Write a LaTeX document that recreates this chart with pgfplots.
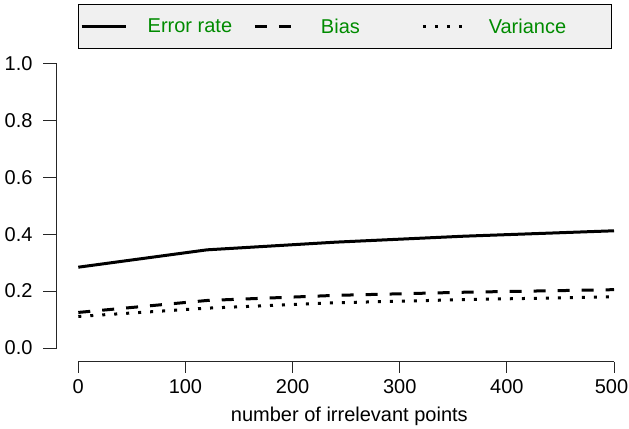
\documentclass[border=0pt]{standalone}
\usepackage{pgfplots}
\pgfplotsset{compat=1.18}
\usepackage{fontspec}
\setmainfont{Liberation Sans}
\definecolor{legendgreen}{RGB}{0,139,0}
\newcommand{\lblfont}{\fontsize{20bp}{24bp}\selectfont}

\begin{document}
\begin{tikzpicture}
\useasboundingbox (0bp,0bp) rectangle (629bp,429bp);
\begin{axis}[
  at={(56.87bp,69.62bp)}, anchor=south west,
  scale only axis,
  width=578.57bp, height=307.26bp,
  xmin=-20, xmax=520, ymin=-0.04, ymax=1.04,
  hide axis, clip=false,
  legend columns=3,
  legend image code/.code={\draw[#1] (0bp,0bp) -- (44bp,0bp);},
  legend style={
    at={(0.03704,1.1566)}, anchor=north west,
    draw=black, line width=0.8bp, fill=gray!12,
    inner xsep=1.5bp, inner ysep=12.2bp,
    font=\lblfont,
    /tikz/every odd column/.append style={column sep=18.5bp},
  },
]
\addplot[black, line width=3bp] coordinates {
  (0,0.284) (120,0.345) (240,0.372) (360,0.393) (500,0.412)
};
\addlegendentry{\makebox[103.8bp][l]{\textcolor{legendgreen}{Error rate}}}
\addplot[black, line width=3bp, dash pattern=on 12bp off 12bp] coordinates {
  (0,0.125) (120,0.167) (240,0.185) (360,0.196) (500,0.205)
};
\addlegendentry{\makebox[98.3bp][l]{\textcolor{legendgreen}{Bias}}}
\addplot[black, line width=3bp, dash pattern=on 3bp off 9bp] coordinates {
  (0,0.111) (120,0.140) (240,0.159) (360,0.170) (500,0.180)
};
\addlegendentry{\makebox[119bp][l]{\textcolor{legendgreen}{Variance}}}

% R style axes, detached from the plot region
\begin{scope}[black!85, line width=0.9bp]
\draw (axis cs:-20,0) -- (axis cs:-20,1);
\draw (axis cs:-20,0)   -- ([xshift=-14bp]axis cs:-20,0);
\draw (axis cs:-20,0.2) -- ([xshift=-14bp]axis cs:-20,0.2);
\draw (axis cs:-20,0.4) -- ([xshift=-14bp]axis cs:-20,0.4);
\draw (axis cs:-20,0.6) -- ([xshift=-14bp]axis cs:-20,0.6);
\draw (axis cs:-20,0.8) -- ([xshift=-14bp]axis cs:-20,0.8);
\draw (axis cs:-20,1)   -- ([xshift=-14bp]axis cs:-20,1);

\draw (axis cs:0,-0.048) -- (axis cs:500,-0.048);
\draw (axis cs:0,-0.048)   -- ([yshift=-11bp]axis cs:0,-0.048);
\draw (axis cs:100,-0.048) -- ([yshift=-11bp]axis cs:100,-0.048);
\draw (axis cs:200,-0.048) -- ([yshift=-11bp]axis cs:200,-0.048);
\draw (axis cs:300,-0.048) -- ([yshift=-11bp]axis cs:300,-0.048);
\draw (axis cs:400,-0.048) -- ([yshift=-11bp]axis cs:400,-0.048);
\draw (axis cs:500,-0.048) -- ([yshift=-11bp]axis cs:500,-0.048);
\end{scope}
\node[anchor=east, inner sep=0, font=\lblfont] at ([xshift=-24.2bp]axis cs:-20,0)   {0.0};
\node[anchor=east, inner sep=0, font=\lblfont] at ([xshift=-24.2bp]axis cs:-20,0.2) {0.2};
\node[anchor=east, inner sep=0, font=\lblfont] at ([xshift=-24.2bp]axis cs:-20,0.4) {0.4};
\node[anchor=east, inner sep=0, font=\lblfont] at ([xshift=-24.2bp]axis cs:-20,0.6) {0.6};
\node[anchor=east, inner sep=0, font=\lblfont] at ([xshift=-24.2bp]axis cs:-20,0.8) {0.8};
\node[anchor=east, inner sep=0, font=\lblfont] at ([xshift=-24.2bp]axis cs:-20,1)   {1.0};
\node[anchor=base, inner sep=0, font=\lblfont] at ([yshift=-31.6bp]axis cs:0,-0.048)   {0};
\node[anchor=base, inner sep=0, font=\lblfont] at ([yshift=-31.6bp]axis cs:100,-0.048) {100};
\node[anchor=base, inner sep=0, font=\lblfont] at ([yshift=-31.6bp]axis cs:200,-0.048) {200};
\node[anchor=base, inner sep=0, font=\lblfont] at ([yshift=-31.6bp]axis cs:300,-0.048) {300};
\node[anchor=base, inner sep=0, font=\lblfont] at ([yshift=-31.6bp]axis cs:400,-0.048) {400};
\node[anchor=base, inner sep=0, font=\lblfont] at ([yshift=-31.6bp, xshift=-2.5bp]axis cs:500,-0.048) {500};
\node[anchor=base, inner sep=0, font=\lblfont] at ([yshift=-60bp]axis cs:253,-0.048) {number of irrelevant points};
\end{axis}
\end{tikzpicture}
\end{document}
